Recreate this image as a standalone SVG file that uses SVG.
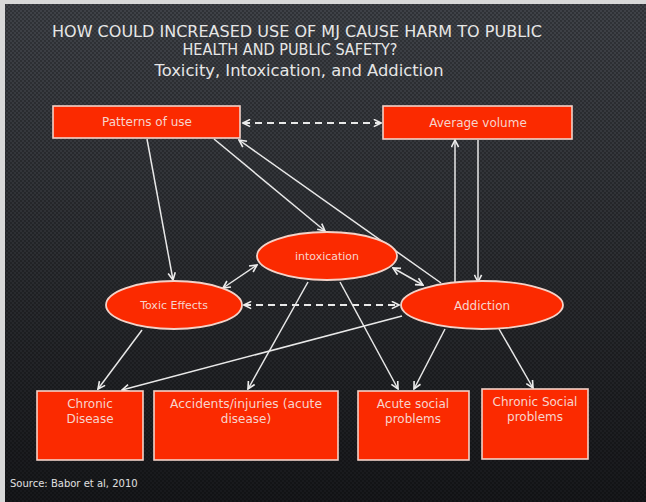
<svg xmlns="http://www.w3.org/2000/svg" width="646" height="502" viewBox="0 0 646 502">
<defs>
<linearGradient id="bg" x1="0" y1="0" x2="0" y2="1">
<stop offset="0" stop-color="#3f4248"/>
<stop offset="0.5" stop-color="#2c2e32"/>
<stop offset="1" stop-color="#17181b"/>
</linearGradient>
<pattern id="dots" width="4" height="4" patternUnits="userSpaceOnUse">
<circle cx="1" cy="1" r="0.9" fill="#000" fill-opacity="0.35"/>
<circle cx="3" cy="3" r="0.9" fill="#000" fill-opacity="0.35"/>
</pattern>
<marker id="ah" viewBox="0 0 10 10" refX="9" refY="5" markerWidth="9" markerHeight="9" markerUnits="userSpaceOnUse" orient="auto-start-reverse">
<path d="M1,1 L9,5 L1,9" fill="none" stroke="#ececec" stroke-width="1.8"/>
</marker>
</defs>
<style>
.box{fill:#fb2a00;stroke:#f3d2c8;stroke-width:1.6}
.ell{fill:#fb2a00;stroke:#f3d2c8;stroke-width:1.8}
.lbl{font-family:"DejaVu Sans",sans-serif;font-size:12px;fill:#f7d4cc;text-anchor:middle}
.sm{font-size:11px}
.ttl{font-family:"DejaVu Sans",sans-serif;fill:#e6e6e6;text-anchor:middle}
.c{stroke:#e8e8e8;stroke-width:1.5;fill:none;marker-end:url(#ah)}
.d{stroke:#e8e8e8;stroke-width:2;fill:none;stroke-dasharray:7 5;marker-start:url(#ah);marker-end:url(#ah)}
.b{marker-start:url(#ah)}
</style>
<rect width="646" height="502" fill="#d8d8d8"/>
<rect x="5" y="4" width="641" height="498" fill="url(#bg)"/>
<rect x="5" y="4" width="641" height="498" fill="url(#dots)"/>
<g id="title">
<text class="ttl" x="297" y="37" font-size="15" textLength="490" lengthAdjust="spacingAndGlyphs">HOW COULD INCREASED USE OF MJ CAUSE HARM TO PUBLIC</text>
<text class="ttl" x="290" y="55" font-size="15" textLength="215" lengthAdjust="spacingAndGlyphs">HEALTH AND PUBLIC SAFETY?</text>
<text class="ttl" x="299" y="76" font-size="16" textLength="289" lengthAdjust="spacingAndGlyphs">Toxicity, Intoxication, and Addiction</text>
</g>
<g id="connectors">
<line class="d" x1="243" y1="123" x2="381" y2="123"/>
<line class="c" x1="147" y1="139" x2="173" y2="280"/>
<line class="c" x1="214" y1="139" x2="325" y2="231"/>
<line class="c" x1="441" y1="283" x2="239" y2="140"/>
<line class="c" x1="455" y1="283" x2="455" y2="140"/>
<line class="c" x1="478" y1="140" x2="478" y2="282"/>
<line class="c b" x1="223" y1="288" x2="257" y2="265"/>
<line class="c b" x1="393" y1="268" x2="423" y2="285"/>
<line class="d" x1="244" y1="305" x2="399" y2="305"/>
<line class="c" x1="142" y1="330" x2="98" y2="389"/>
<line class="c" x1="402" y1="316" x2="122" y2="390"/>
<line class="c" x1="308" y1="282" x2="248" y2="389"/>
<line class="c" x1="340" y1="282" x2="398" y2="389"/>
<line class="c" x1="445" y1="329" x2="414" y2="389"/>
<line class="c" x1="499" y1="329" x2="533" y2="388"/>
</g>
<g id="patterns">
<rect class="box" x="53" y="106" width="187" height="32"/>
<text class="lbl" x="147" y="126">Patterns of use</text>
</g>
<g id="average">
<rect class="box" x="383" y="106" width="189" height="33"/>
<text class="lbl" x="478" y="127">Average volume</text>
</g>
<g id="intoxication">
<ellipse class="ell" cx="327" cy="256" rx="70" ry="24"/>
<text class="lbl sm" x="327" y="260">intoxication</text>
</g>
<g id="toxic">
<ellipse class="ell" cx="174" cy="305" rx="68" ry="24"/>
<text class="lbl sm" x="174" y="309">Toxic Effects</text>
</g>
<g id="addiction">
<ellipse class="ell" cx="482" cy="305" rx="81" ry="24"/>
<text class="lbl" x="482" y="310">Addiction</text>
</g>
<g id="chronic-disease">
<rect class="box" x="37" y="391" width="106" height="69"/>
<text class="lbl" x="90" y="408">Chronic</text>
<text class="lbl" x="90" y="423">Disease</text>
</g>
<g id="accidents">
<rect class="box" x="154" y="391" width="184" height="69"/>
<text class="lbl" x="246" y="408" textLength="152" lengthAdjust="spacingAndGlyphs">Accidents/injuries (acute</text>
<text class="lbl" x="246" y="423">disease)</text>
</g>
<g id="acute-social">
<rect class="box" x="358" y="391" width="111" height="69"/>
<text class="lbl" x="413" y="408">Acute social</text>
<text class="lbl" x="413" y="423">problems</text>
</g>
<g id="chronic-social">
<rect class="box" x="482" y="389" width="106" height="70"/>
<text class="lbl" x="535" y="406">Chronic Social</text>
<text class="lbl" x="535" y="421">problems</text>
</g>
<text x="10" y="487" font-family="DejaVu Sans,sans-serif" font-size="10" fill="#e0e0e0">Source: Babor et al, 2010</text>
</svg>
